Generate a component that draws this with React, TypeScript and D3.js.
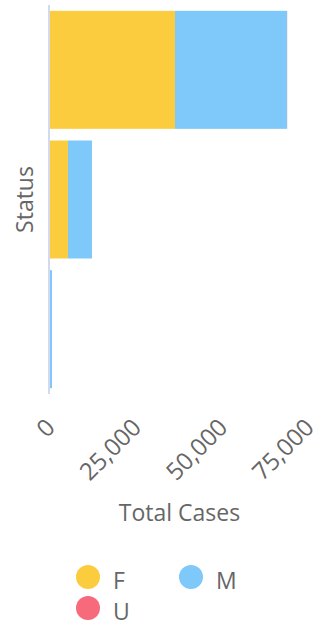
import React, { useEffect, useRef } from 'react';
import * as d3 from 'd3';

const statuses = ['Recovered', 'Active', 'Deceased'];
const genders = ['F', 'M', 'U'];
const femaleCases = [36350, 5350, 20];
const maleCases = [32450, 6950, 700];
const unknownCases = [40, 15, 5];
const xTicks = [0, 25000, 50000, 75000];
const colors = ['#fbcd3e', '#7ec8fa', '#f66a7b'];

const App = () => {
    const svgRef = useRef<SVGSVGElement>(null);

    useEffect(() => {
        const width = 314;
        const height = 620;
        const marginLeft = 49.5;
        const marginRight = 5.6;
        const marginTop = 5;
        const plotBottom = 394;
        const font = '"Open Sans", sans-serif';
        const fs = 23;

        const rows = statuses.map((s, i) => ({
            status: s,
            F: femaleCases[i],
            M: maleCases[i],
            U: unknownCases[i],
        }));

        const stacked = d3.stack<any>().keys(genders)(rows);

        const x = d3.scaleLinear()
            .domain([0, 75000])
            .range([marginLeft, width - marginRight]);

        const y = d3.scaleBand()
            .domain(statuses)
            .range([marginTop, plotBottom])
            .paddingInner(0.09)
            .paddingOuter(0.045);

        const color = d3.scaleOrdinal<string>().domain(genders).range(colors);

        const svg = d3.select(svgRef.current)
            .attr('width', width)
            .attr('height', height)
            .attr('viewBox', [0, 0, width, height].join(' '));
        svg.selectAll('*').remove();

        svg.append('g')
            .selectAll('g')
            .data(stacked)
            .join('g')
            .attr('fill', d => color(d.key))
            .selectAll('rect')
            .data(d => d.map(v => ({ ...v, status: v.data.status })))
            .join('rect')
            .attr('x', d => x(d[0]))
            .attr('y', d => y(d.status)!)
            .attr('width', d => x(d[1]) - x(d[0]))
            .attr('height', y.bandwidth());

        // y axis line only, no labels
        svg.append('line')
            .attr('x1', marginLeft - 0.5)
            .attr('x2', marginLeft - 0.5)
            .attr('y1', marginTop)
            .attr('y2', plotBottom)
            .attr('stroke', '#d3daee')
            .attr('stroke-width', 2);

        // x tick labels, rotated
        svg.append('g')
            .selectAll('text')
            .data(xTicks)
            .join('text')
            .attr('transform', d => `translate(${x(d) + 1},${plotBottom + 29}) rotate(-45)`)
            .attr('text-anchor', 'end')
            .attr('dy', '0.35em')
            .attr('fill', '#666')
            .style('font', `24px ${font}`)
            .text(d => d3.format(',')(d));

        svg.append('text')
            .attr('x', 179.5)
            .attr('y', 521)
            .attr('text-anchor', 'middle')
            .attr('fill', '#666')
            .style('font', `${fs}px ${font}`)
            .text('Total Cases');

        svg.append('text')
            .attr('transform', `translate(33,${(marginTop + plotBottom) / 2}) rotate(-90)`)
            .attr('text-anchor', 'middle')
            .attr('fill', '#666')
            .style('font', `${fs}px ${font}`)
            .text('Status');

        // legend
        const legendPos = [
            { cx: 88, cy: 577 },
            { cx: 191, cy: 577 },
            { cx: 88, cy: 608 },
        ];
        const legend = svg.append('g')
            .selectAll('g')
            .data(genders)
            .join('g')
            .attr('transform', (d, i) => `translate(${legendPos[i].cx},${legendPos[i].cy})`);
        legend.append('circle')
            .attr('r', 12)
            .attr('fill', d => color(d));
        legend.append('text')
            .attr('x', 25)
            .attr('y', 12)
            .attr('fill', '#666')
            .style('font', `${fs}px ${font}`)
            .text(d => d);
    }, []);

    return (
        <div style={{ position: 'absolute', top: 0, left: 0 }}>
            <svg ref={svgRef} style={{ display: 'block' }}></svg>
        </div>
    );
};

export default App;
